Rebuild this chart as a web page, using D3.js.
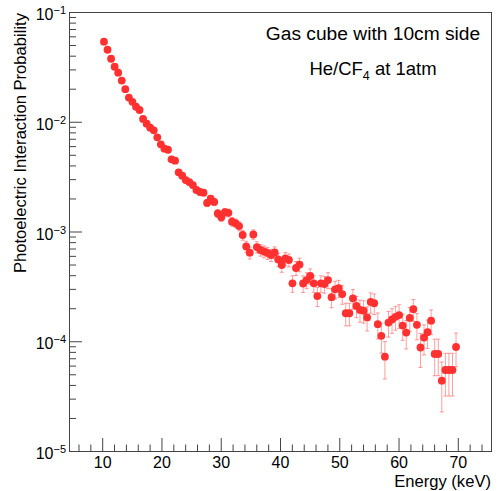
<!DOCTYPE html>
<html>
<head>
<meta charset="utf-8">
<script src="https://cdn.jsdelivr.net/npm/d3@7"></script>
<style>
  body { margin: 0; background: #fff; }
  text { font-family: 'Liberation Sans', Arial, Helvetica, sans-serif; fill: #000; }
</style>
</head>
<body>
<script>
// bin centres (keV)
const energy = [
	10.3, 10.9, 11.5, 12.1, 12.7, 13.3, 13.9, 14.5, 15.1, 15.7,
	16.3, 16.9, 17.5, 18.1, 18.7, 19.3, 19.9, 20.5, 21.1, 21.7,
	22.3, 22.9, 23.5, 24.1, 24.7, 25.3, 25.9, 26.5, 27.1, 27.7,
	28.3, 28.9, 29.5, 30.1, 30.7, 31.3, 31.9, 32.5, 33.1, 33.7,
	34.3, 34.9, 35.5, 36.1, 36.7, 37.3, 37.9, 38.5, 39.1, 39.7,
	40.3, 40.9, 41.5, 42.1, 42.7, 43.3, 43.9, 44.5, 45.1, 45.7,
	46.3, 46.9, 47.5, 48.1, 48.7, 49.3, 49.9, 50.5, 51.1, 51.7,
	52.3, 52.9, 53.5, 54.1, 54.7, 55.3, 55.9, 56.5, 57.1, 57.7,
	58.3, 58.9, 59.5, 60.1, 60.7, 61.3, 61.9, 62.5, 63.1, 63.7,
	64.3, 64.9, 65.5, 66.1, 66.7, 67.3, 67.9, 68.5, 69.1, 69.7
]

// photoelectric interaction probability per bin
const probability = [
	0.0536, 0.0453, 0.0375, 0.0317, 0.0280, 0.0237, 0.0198, 0.0166, 0.0152, 0.0137,
	0.0128, 0.0106, 0.0096, 0.00883, 0.00836, 0.00722, 0.00623, 0.00568, 0.00556, 0.00455,
	0.00442, 0.00346, 0.00322, 0.00294, 0.00282, 0.00265, 0.00239, 0.00229, 0.00226, 0.00182,
	0.00199, 0.00186, 0.00146, 0.00135, 0.00150, 0.00148, 0.00123, 0.00119, 0.00112, 0.000929,
	0.000730, 0.000641, 0.000939, 0.000722, 0.000678, 0.000657, 0.000637, 0.000611, 0.000644, 0.000556,
	0.000495, 0.000568, 0.000550, 0.000337, 0.000465, 0.000500, 0.000336, 0.000361, 0.000393, 0.000337,
	0.000258, 0.000337, 0.000332, 0.000361, 0.000252, 0.000297, 0.000304, 0.000269, 0.000180, 0.000180,
	0.000246, 0.000210, 0.000193, 0.000190, 0.000165, 0.000228, 0.000222, 0.000143, 0.000112, 0.0000723,
	0.000148, 0.000158, 0.000167, 0.000173, 0.000139, 0.000120, 0.000163, 0.000196, 0.000141, 0.0000877,
	0.000108, 0.000121, 0.000154, 0.0000765, 0.0000765, 0.0000437, 0.0000547, 0.0000547, 0.0000547, 0.0000886
]

// statistical error per bin
const probError = [
	7.3e-4, 6.7e-4, 6.1e-4, 5.6e-4, 5.3e-4, 4.9e-4, 4.4e-4, 4.1e-4, 3.9e-4, 3.7e-4,
	3.6e-4, 3.3e-4, 3.1e-4, 3.0e-4, 2.9e-4, 2.7e-4, 2.5e-4, 2.4e-4, 2.4e-4, 2.1e-4,
	2.1e-4, 1.9e-4, 1.8e-4, 1.7e-4, 1.7e-4, 1.6e-4, 1.55e-4, 1.5e-4, 1.5e-4, 1.35e-4,
	1.4e-4, 1.36e-4, 1.21e-4, 1.16e-4, 1.22e-4, 1.22e-4, 1.11e-4, 1.09e-4, 1.06e-4, 9.6e-5,
	8.5e-5, 8.0e-5, 9.7e-5, 8.5e-5, 8.2e-5, 8.1e-5, 8.0e-5, 7.8e-5, 8.0e-5, 7.5e-5,
	7.0e-5, 7.5e-5, 7.4e-5, 5.8e-5, 6.8e-5, 7.1e-5, 5.8e-5, 6.0e-5, 6.3e-5, 5.8e-5,
	5.1e-5, 5.8e-5, 5.8e-5, 6.0e-5, 5.0e-5, 5.5e-5, 5.5e-5, 5.2e-5, 4.2e-5, 4.2e-5,
	5.0e-5, 4.6e-5, 4.4e-5, 4.4e-5, 4.1e-5, 4.8e-5, 4.7e-5, 3.8e-5, 3.4e-5, 2.7e-5,
	3.9e-5, 4.0e-5, 4.1e-5, 4.2e-5, 3.7e-5, 3.5e-5, 4.0e-5, 4.4e-5, 3.8e-5, 3.0e-5,
	3.3e-5, 3.5e-5, 3.9e-5, 2.8e-5, 2.8e-5, 2.1e-5, 2.3e-5, 2.3e-5, 2.3e-5, 3.0e-5
]

const xTicks = [10, 20, 30, 40, 50, 60, 70]
const yTicks = [1e-5, 1e-4, 1e-3, 1e-2, 1e-1]
const yTickExp = ['\u22125', '\u22124', '\u22123', '\u22122', '\u22121']

const data = energy.map((e, i) => ({ e: e, p: probability[i], err: probError[i] }))

// frame of the plot
const margin = { top: 12, bottom: 40, left: 69, right: 10 }
const width = 501 - margin.left - margin.right
const height = 491 - margin.top - margin.bottom

const svg = d3
	.select('body')
	.append('svg')
	.attr('width', 501)
	.attr('height', 491)

const g = svg.append('g').attr('transform', `translate(${margin.left},${margin.top})`)

// scales
const x = d3.scaleLinear().domain([4.4, 75.6]).range([0, width])
const y = d3.scaleLog().domain([1e-5, 1e-1]).range([height, 0])

// minor ticks
const xMinor = d3.range(6, 76, 2).filter(v => v % 10 !== 0)
const yMinor = []
yTicks.slice(0, 4).forEach(d => {
	for (let m = 2; m <= 9; m++) yMinor.push(d * m)
})

const axisColor = '#444'

// x axis, ticks point inwards
const gx = g.append('g').attr('transform', `translate(0,${height})`)
gx.append('g')
	.call(d3.axisBottom(x).tickValues(xMinor).tickSize(-6.5).tickFormat(''))
gx.append('g')
	.call(d3.axisBottom(x).tickValues(xTicks).tickSize(-13).tickPadding(6).tickFormat(d3.format('d')))
gx.selectAll('.domain').remove()
gx.selectAll('line').attr('stroke', axisColor)
gx.selectAll('text').attr('font-size', 16).attr('fill', '#000')

// y axis, log with superscript labels
const gy = g.append('g')
gy.append('g')
	.call(d3.axisLeft(y).tickValues(yMinor).tickSize(-7).tickFormat(''))
const gyMajor = gy.append('g')
	.call(d3.axisLeft(y).tickValues(yTicks).tickSize(-13).tickFormat(''))
gy.selectAll('.domain').remove()
gy.selectAll('line').attr('stroke', axisColor)

gyMajor.selectAll('.tick').each(function (d, i) {
	const t = d3.select(this).append('text')
		.attr('x', -3)
		.attr('y', 7.5)
		.attr('text-anchor', 'end')
		.attr('fill', '#000')
	t.append('tspan').attr('font-size', 16).text('10')
	t.append('tspan').attr('font-size', 11).attr('dy', -6).text(yTickExp[i])
})

// frame
g.append('rect')
	.attr('x', 0.5)
	.attr('y', 0.5)
	.attr('width', width)
	.attr('height', height)
	.attr('fill', 'none')
	.attr('stroke', axisColor)

// error bars
const bars = g.append('g')
	.attr('stroke', '#ff4d4d')
	.attr('stroke-opacity', 0.55)
	.attr('stroke-width', 1)

bars.selectAll('line.err')
	.data(data)
	.join('line')
	.attr('class', 'err')
	.attr('x1', d => x(d.e))
	.attr('x2', d => x(d.e))
	.attr('y1', d => y(d.p + d.err))
	.attr('y2', d => y(Math.max(d.p - d.err, 1e-6)))

bars.selectAll('line.capTop')
	.data(data)
	.join('line')
	.attr('class', 'capTop')
	.attr('x1', d => x(d.e) - 2)
	.attr('x2', d => x(d.e) + 2)
	.attr('y1', d => y(d.p + d.err))
	.attr('y2', d => y(d.p + d.err))

bars.selectAll('line.capBot')
	.data(data)
	.join('line')
	.attr('class', 'capBot')
	.attr('x1', d => x(d.e) - 2)
	.attr('x2', d => x(d.e) + 2)
	.attr('y1', d => y(d.p - d.err))
	.attr('y2', d => y(d.p - d.err))

// markers
g.append('g')
	.selectAll('circle')
	.data(data)
	.join('circle')
	.attr('cx', d => x(d.e))
	.attr('cy', d => y(d.p))
	.attr('r', 3.9)
	.attr('fill', 'rgb(255,48,48)')

// axis titles
svg.append('text')
	.attr('x', 491)
	.attr('y', 487)
	.attr('text-anchor', 'end')
	.attr('font-size', 16.6)
	.text('Energy (keV)')

svg.append('text')
	.attr('transform', 'translate(25.5,13) rotate(-90)')
	.attr('text-anchor', 'end')
	.attr('font-size', 16.6)
	.text('Photoelectric Interaction Probability')

// labels in the corner
svg.append('text')
	.attr('x', 373)
	.attr('y', 39.5)
	.attr('text-anchor', 'middle')
	.attr('font-size', 19.2)
	.text('Gas cube with 10cm side')

const label2 = svg.append('text')
	.attr('x', 373)
	.attr('y', 75)
	.attr('text-anchor', 'middle')
	.attr('font-size', 18.5)
label2.append('tspan').text('He/CF')
label2.append('tspan').attr('font-size', 12.5).attr('dy', 5).text('4')
label2.append('tspan').attr('dy', -5).text(' at 1atm')
</script>
</body>
</html>
